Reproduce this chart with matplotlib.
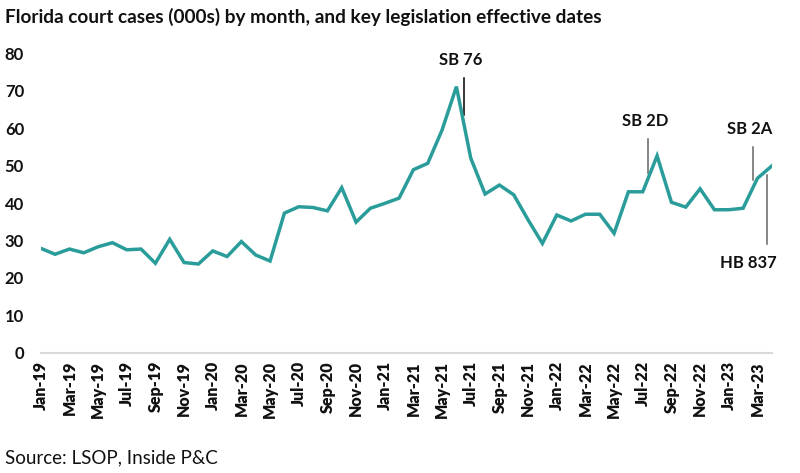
"""
Florida court cases by month with key legislation effective dates.
"""

import matplotlib
matplotlib.use('Agg')
import matplotlib.pyplot as plt
import numpy as np
import pandas as pd

plt.rcParams['font.family'] = ['Lato', 'DejaVu Sans']

# monthly court cases (000s), Jan-19 .. Apr-23
months = pd.date_range('2019-01-01', '2023-04-01', freq='MS')
cases = [
    27.9, 26.3, 27.7, 26.7, 28.3, 29.4, 27.5, 27.7, 23.9, 30.3, 24.1, 23.7,  # 2019
    27.2, 25.7, 29.7, 26.1, 24.5, 37.3, 39.0, 38.8, 37.9, 44.1, 34.9, 38.6,  # 2020
    39.9, 41.3, 48.9, 50.6, 59.5, 71.1, 52.0, 42.4, 44.8, 42.2, 35.5, 29.2,  # 2021
    36.8, 35.2, 37.0, 37.0, 31.9, 43.0, 43.0, 52.6, 40.2, 38.9, 43.8, 38.2,  # 2022
    38.2, 38.6, 46.6, 49.9,                                                  # 2023
]
tick_labels = [m.strftime('%b-%y') for m in months]

# legislation markers: label, month index, line top/bottom (000s)
laws = ['SB 76', 'SB 2D', 'SB 2A', 'HB 837']
law_pos = [29.5, 42.4, 49.66, 50.64]
law_top = [73.4, 57.0, 54.9, 47.5]
law_bottom = [63.6, 48.1, 46.2, 29.1]
law_colors = ['black', '#666666', '#666666', '#666666']

line_color = '#2A9D9B'
text_color = '#111111'

fig = plt.figure(figsize=(8, 4.73), dpi=100)
ax = fig.add_axes([0.0509, 0.2543, 0.9138, 0.633])

x = np.arange(len(cases))
ax.plot(x, cases, color=line_color, lw=2.5, solid_joinstyle='miter', zorder=3)

for name, pos, top, bot, col in zip(laws, law_pos, law_top, law_bottom, law_colors):
    ax.plot([pos, pos], [bot, top], color=col, lw=1.1, zorder=2)
    if name == 'HB 837':
        ax.text(pos - 1.3, bot - 3.0, name, ha='center', va='top', fontsize=12,
                fontweight='bold', color=text_color)
    else:
        ax.text(pos - 0.2, top + 2.8, name, ha='center', va='bottom', fontsize=12,
                fontweight='bold', color=text_color)

ax.set_xlim(0, len(cases) - 1)
ax.set_ylim(0, 80)
ax.set_yticks(np.arange(0, 81, 10))
ax.set_xticks(x[::2])
ax.set_xticklabels(tick_labels[::2], rotation=90, fontsize=11.5, fontweight='heavy', color=text_color)
ax.tick_params(axis='y', length=0, pad=12, labelsize=12, labelcolor=text_color)
ax.tick_params(axis='x', length=0, pad=6)
for lbl in ax.get_yticklabels():
    lbl.set_fontweight('bold')

for side in ['top', 'right', 'left']:
    ax.spines[side].set_visible(False)
ax.spines['bottom'].set_color('#d9d9d9')
ax.spines['bottom'].set_linewidth(1.5)

fig.text(0.006, 0.965, 'Florida court cases (000s) by month, and key legislation effective dates',
         ha='left', va='center', fontsize=13.7, fontweight='bold', color=text_color)
fig.text(0.006, 0.032, 'Source: LSOP, Inside P&C', ha='left', va='center',
         fontsize=13.5, color=text_color)

fig.savefig('out.png', dpi=100)
